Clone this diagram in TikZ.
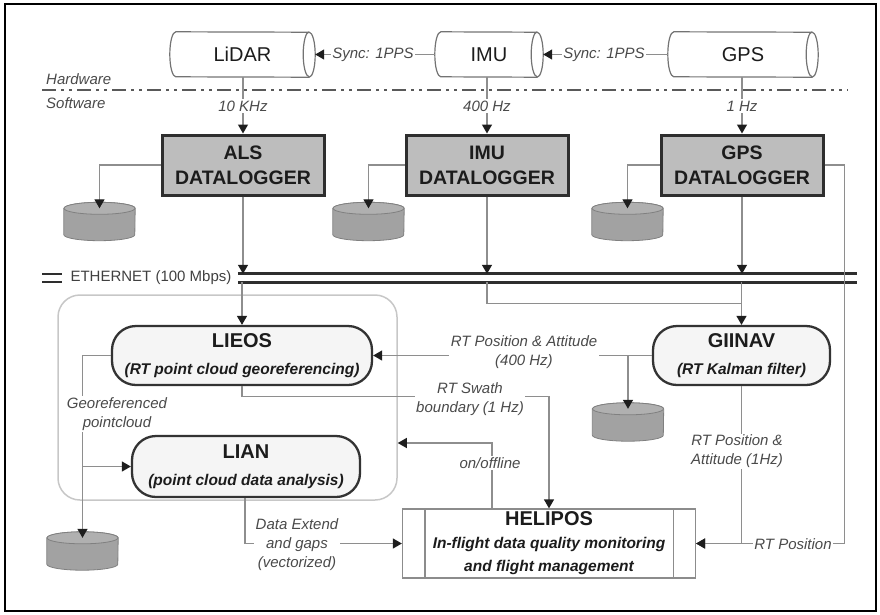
\documentclass[tikz,border=0pt]{standalone}
\usepackage{fontspec}
\setmainfont{Liberation Sans}
\usetikzlibrary{arrows.meta,calc}
\definecolor{lc}{HTML}{8E8E8E}
\definecolor{tipc}{HTML}{1E1E1E}
\definecolor{dlfill}{HTML}{BDBDBD}
\definecolor{dbfill}{HTML}{A2A2A2}
\definecolor{dbtop}{HTML}{B0B0B0}
\definecolor{txt}{HTML}{4A4A4A}
\definecolor{dark}{HTML}{1C1C1C}
\newcommand\hcyl[1]{%
 \draw[line width=1.2pt, draw=black!55] ($(#1.north west)+(6,0)$) arc[start angle=270,end angle=90,x radius=6,y radius=22.5] -- ($(#1.south east)+(-6,0)$) arc[start angle=90,end angle=-90,x radius=6,y radius=22.5] -- cycle;
 \draw[line width=1.2pt, draw=black!55] ($(#1.north east)+(-6,0)$) arc[start angle=270,end angle=90,x radius=6,y radius=22.5];
}
\newcommand\dbshape[1]{%
 \filldraw[fill=dbfill, draw=black!50, line width=0.8pt] ($(#1.north west)+(0,6)$) -- ($(#1.south west)+(0,-6)$) arc[start angle=180,end angle=0,x radius=35.5,y radius=6] -- ($(#1.north east)+(0,6)$) arc[start angle=0,end angle=-180,x radius=35.5,y radius=6] -- cycle;
 \filldraw[fill=dbtop, draw=black!50, line width=0.8pt] ($(#1.north)+(0,6)$) ellipse[x radius=35.5,y radius=6];
}
\tikzset{
 conn/.style={draw=lc, line width=1.3pt, -{Triangle[length=9pt,width=10pt,color=tipc]}},
 plain/.style={draw=lc, line width=1.3pt},
 lbl/.style={fill=white, inner sep=1.5pt, font=\fontsize{15}{19}\selectfont\itshape, text=txt, align=center},
 side/.style={inner sep=0, font=\fontsize{15}{18}\selectfont\itshape, text=txt},
 sensor/.style={minimum height=45, inner sep=0, font=\fontsize{20}{24}\selectfont, text=dark},
 dl/.style={draw=black!82, line width=3pt, fill=dlfill, minimum width=162, minimum height=60, inner sep=0, align=center, text=dark, font=\fontsize{19.5}{25}\selectfont\bfseries},
 proc/.style={draw=black!80, line width=2.3pt, fill=black!4, rounded corners=24, inner sep=0, align=center, text=dark, font=\fontsize{20}{27}\selectfont\bfseries},
 db/.style={minimum width=71, minimum height=38, inner sep=0},
 ethline/.style={draw=black!82, line width=3pt},
 hsline/.style={draw=black!65, line width=2.5pt, dash pattern=on 14pt off 5pt on 3pt off 5pt on 3pt off 5pt},
}
\begin{document}
\begin{tikzpicture}[x=1pt,y=-1pt]
\useasboundingbox (0,0) rectangle (880,614);
\draw[line width=2pt] (4.5,3.5) rectangle (876,611);

% hardware / software separator
\coordinate (hsL) at (42,90);
\coordinate (hsR) at (848,90);
\draw[hsline] (hsL) -- (hsR);
\node[side, anchor=west] (hwl) at (46,79) {Hardware};
\node[side, anchor=west] (swl) at (46,103) {Software};

% sensors
\node[sensor, minimum width=145] (lidar) at (242.5,54.5) {LiDAR};
\node[sensor, minimum width=108] (imu) at (489,54.5) {IMU};
\node[sensor, minimum width=150] (gps) at (743,54.5) {GPS};
\hcyl{lidar}\hcyl{imu}\hcyl{gps}

% dataloggers
\node[dl] (als) at (243,165) {ALS\\DATALOGGER};
\node[dl] (imudl) at (487,165) {IMU\\DATALOGGER};
\node[dl] (gpsdl) at (742,165) {GPS\\DATALOGGER};

% databases
\node[db] (db1) at (99.5,221.5) {};
\node[db] (db2) at (368.5,221.5) {};
\node[db] (db3) at (627.5,221.5) {};
\node[db] (db4) at (628,422) {};
\node[db] (db5) at (82.5,551) {};
\dbshape{db1}\dbshape{db2}\dbshape{db3}\dbshape{db4}\dbshape{db5}

% ethernet bus
\node[minimum width=619, minimum height=8, inner sep=0] (bus) at (547.5,278) {};
\draw[ethline] (bus.north west) -- (bus.north east) (bus.south west) -- (bus.south east);
\coordinate (eb1) at (42,274);
\coordinate (eb2) at (62,274);
\coordinate (eb3) at (42,282);
\coordinate (eb4) at (62,282);
\draw[ethline, line width=2.5pt] (eb1) -- (eb2) (eb3) -- (eb4);
\node[inner sep=0, font=\fontsize{15}{18}\selectfont, text=black!75] (ethl) at (151,278) {ETHERNET (100 Mbps)};

% container
\node[draw=black!22, line width=1.5pt, rounded corners=22, minimum width=339, minimum height=205, inner sep=0] (cont) at (227.5,397.5) {};

% processes
\node[proc, minimum width=260, minimum height=59] (lieos) at (242,355.5) {LIEOS\\{\fontsize{15.5}{19}\selectfont\itshape (RT point cloud georeferencing)}};
\node[proc, minimum width=228, minimum height=61] (lian) at (246,466.5) {LIAN\\{\fontsize{15.5}{19}\selectfont\itshape (point cloud data analysis)}};
\node[proc, minimum width=177, minimum height=59] (giinav) at (741.5,355.5) {GIINAV\\{\fontsize{15.5}{19}\selectfont\itshape (RT Kalman filter)}};
\node[draw=black!45, line width=1.3pt, fill=white, minimum width=293, minimum height=69, inner sep=0, align=center, text=dark, font=\fontsize{20}{23}\selectfont\bfseries] (helipos) at (549,543.5) {HELIPOS\\{\fontsize{15.5}{23}\selectfont\itshape In-flight data quality monitoring}\\{\fontsize{15.5}{23}\selectfont\itshape and flight management}};
\draw[draw=black!45, line width=1.3pt] ($(helipos.north west)+(23,0)$) -- ($(helipos.south west)+(23,0)$);
\draw[draw=black!45, line width=1.3pt] ($(helipos.north east)+(-23,0)$) -- ($(helipos.south east)+(-23,0)$);

% sensor connectors
\draw[conn] (imu.west) -- (lidar.east);
\draw[conn] (gps.west) -- (imu.east);
\draw[conn] (lidar.south -| als.north) -- (als.north);
\draw[conn] (imu.south -| imudl.north) -- (imudl.north);
\draw[conn] (gps.south -| gpsdl.north) -- (gpsdl.north);

% datalogger to databases
\draw[conn] (als.west) -| ($(db1.north)+(0,6)$);
\draw[conn] (imudl.west) -| ($(db2.north)+(0,6)$);
\draw[conn] (gpsdl.west) -| ($(db3.north)+(0,6)$);

% datalogger to ethernet
\draw[conn] (als.south) -- (als.south |- bus.north);
\draw[conn] (imudl.south) -- (imudl.south |- bus.north);
\draw[conn] (gpsdl.south) -- (gpsdl.south |- bus.north);
\draw[conn] (bus.south -| lieos.north) -- (lieos.north);
\coordinate (j1) at ($(bus.south -| giinav.north)+(0,21)$);
\draw[plain] (bus.south -| imudl.south) |- (j1);
\draw[conn] (bus.south -| giinav.north) -- (giinav.north);

% RT position from GPS datalogger
\coordinate (rtc) at ($(gpsdl.east |- helipos.east)+(20,0)$);
\draw[conn] (gpsdl.east) -| (rtc) -- (helipos.east);
\draw[conn] (giinav.south) |- (helipos.east);

% GIINAV to LIEOS and db
\draw[conn] (giinav.west) -- (lieos.east);
\draw[conn] (giinav.west -| db4.north) -- ($(db4.north)+(0,6)$);

% LIEOS outputs
\draw[conn] (lieos.west) -| ($(db5.north)+(0,6)$);
\draw[conn] (db5.north |- lian.west) -- (lian.west);
\draw[conn] (lieos.south) -- ++(0,10.5) -| (helipos.north);

% on/offline
\coordinate (oo) at ($(cont.east)+(0,45.5)$);
\draw[conn] ($(helipos.north west)+(90,0)$) |- (oo);

% LIAN to HELIPOS
\draw[conn] ($(lian.south)+(-1,0)$) |- (helipos.west);

% labels
\node[lbl] (s1) at (373,55) {Sync: 1PPS};
\node[lbl] (s2) at (604,55) {Sync: 1PPS};
\node[lbl] (f1) at (243,106) {10 KHz};
\node[lbl] (f2) at (487,106) {400 Hz};
\node[lbl] (f3) at (742,106) {1 Hz};
\node[lbl] (l400) at (524,352.5) {RT Position \& Attitude\\(400 Hz)};
\node[lbl] (lsw) at (470,399.5) {RT Swath\\boundary (1 Hz)};
\node[lbl] (lon) at (490,463) {on/offline};
\node[lbl] (lgeo) at (117,414) {Georeferenced\\pointcloud};
\node[lbl] (lext) at (297,545) {Data Extend\\and gaps\\(vectorized)};
\node[lbl] (l1hz) at (737,451.5) {RT Position \&\\Attitude (1Hz)};
\node[lbl] (lpos) at (793,544) {RT Position};
\end{tikzpicture}
\end{document}
